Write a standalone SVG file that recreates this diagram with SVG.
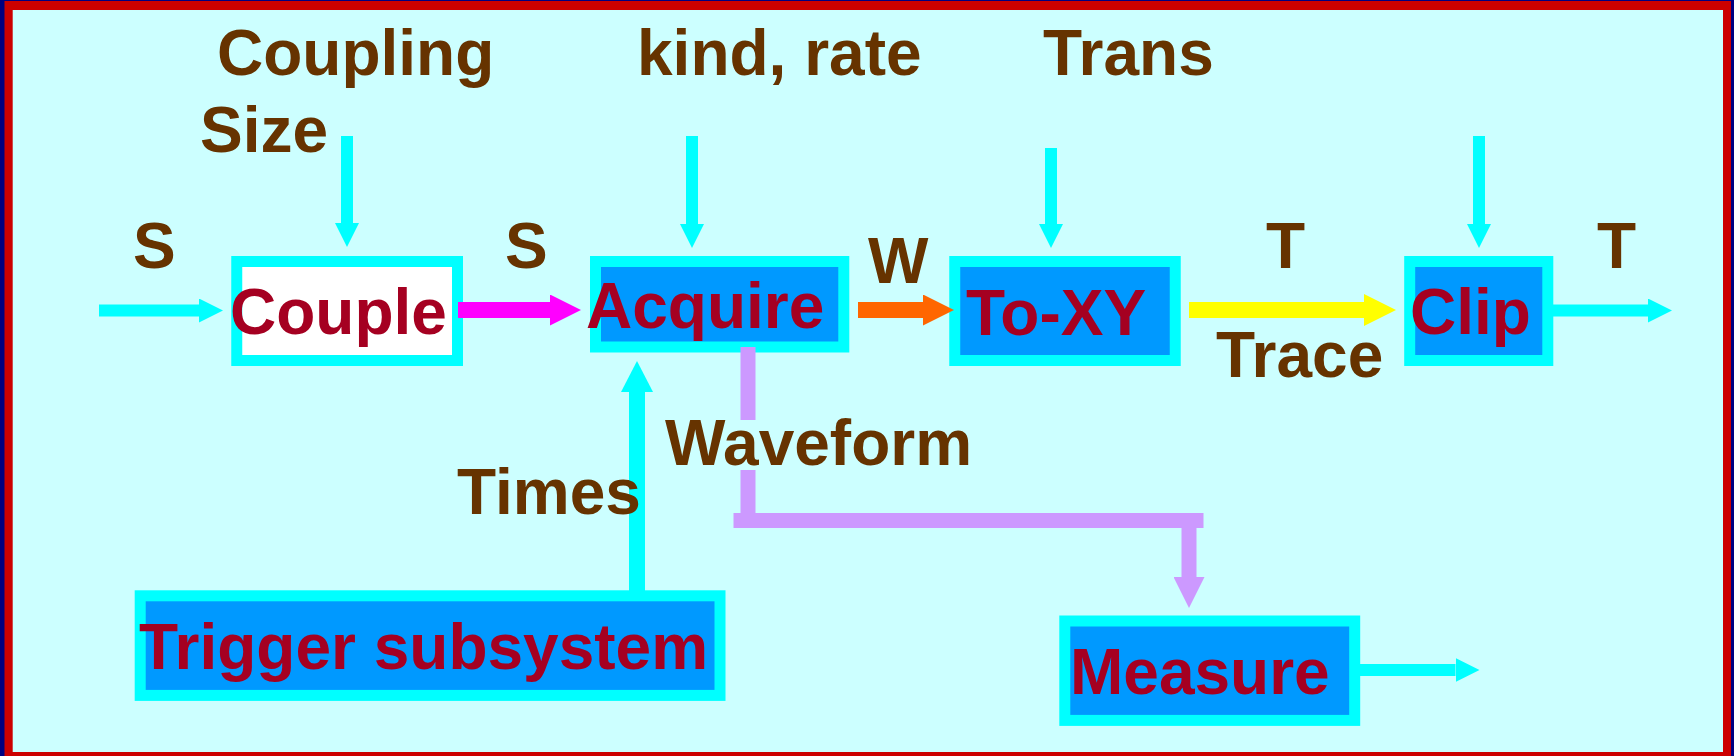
<svg xmlns="http://www.w3.org/2000/svg" width="1734" height="756" viewBox="0 0 1734 756">
  <style>
    text { font-family: "Liberation Sans", Arial, sans-serif; font-weight: bold; font-size: 64px; }
    .lbl { fill: #663300; }
    .name { fill: #A50021; }
    .box { stroke: #00FFFF; stroke-width: 11; }
    .blue { fill: #0099FF; }
    .white { fill: #FFFFFF; }
    .cy12 { fill: none; stroke: #00FFFF; stroke-width: 12; }
    .cy16 { fill: none; stroke: #00FFFF; stroke-width: 16; }
    .mag { fill: none; stroke: #FF00FF; stroke-width: 16; }
    .org { fill: none; stroke: #FF6600; stroke-width: 16; }
    .yel { fill: none; stroke: #FFFF00; stroke-width: 16; }
    .lav { fill: none; stroke: #CC99FF; stroke-width: 15; }
  </style>
  <defs>
    <marker id="hCyanS" markerUnits="userSpaceOnUse" markerWidth="24" markerHeight="24" refX="0" refY="12" orient="auto">
      <path d="M0,0 L24,12 L0,24 z" fill="#00FFFF"/>
    </marker>
    <marker id="hCyanL" markerUnits="userSpaceOnUse" markerWidth="31" markerHeight="32" refX="0" refY="16" orient="auto">
      <path d="M0,0 L31,16 L0,32 z" fill="#00FFFF"/>
    </marker>
    <marker id="hMag" markerUnits="userSpaceOnUse" markerWidth="31" markerHeight="31" refX="0" refY="15.5" orient="auto">
      <path d="M0,0 L31,15.5 L0,31 z" fill="#FF00FF"/>
    </marker>
    <marker id="hOrg" markerUnits="userSpaceOnUse" markerWidth="31" markerHeight="31" refX="0" refY="15.5" orient="auto">
      <path d="M0,0 L31,15.5 L0,31 z" fill="#FF6600"/>
    </marker>
    <marker id="hYel" markerUnits="userSpaceOnUse" markerWidth="32" markerHeight="32" refX="0" refY="16" orient="auto">
      <path d="M0,0 L32,16 L0,32 z" fill="#FFFF00"/>
    </marker>
    <marker id="hLav" markerUnits="userSpaceOnUse" markerWidth="31" markerHeight="31" refX="0" refY="15.5" orient="auto">
      <path d="M0,0 L31,15.5 L0,31 z" fill="#CC99FF"/>
    </marker>
  </defs>

  <!-- frame and background -->
  <rect x="0" y="0" width="1734" height="756" fill="#000080"/>
  <rect x="4.5" y="1" width="1726.5" height="755" fill="#CC0000"/>
  <rect x="12.7" y="10" width="1710.3" height="742" fill="#CCFFFF"/>

  <!-- blocks -->
  <g id="couple">
    <rect class="box white" x="236.75" y="261.5" width="220.75" height="99"/>
    <text class="name" x="230" y="334">Couple</text>
  </g>
  <g id="acquire">
    <rect class="box blue" x="595.5" y="261.5" width="248.3" height="85.5"/>
    <text class="name" x="586" y="328">Acquire</text>
  </g>
  <g id="to-xy">
    <rect class="box blue" x="954.75" y="261.5" width="220.5" height="99"/>
    <text class="name" x="966" y="335">To-XY</text>
  </g>
  <g id="clip">
    <rect class="box blue" x="1409.7" y="261.5" width="138.1" height="99"/>
    <text class="name" x="1410" y="334">Clip</text>
  </g>
  <g id="trigger">
    <rect class="box blue" x="140.2" y="595.8" width="579.8" height="99.6"/>
    <text class="name" x="139" y="669">Trigger subsystem</text>
  </g>
  <g id="measure">
    <rect class="box blue" x="1064.8" y="621" width="289.9" height="99.4"/>
    <text class="name" x="1070" y="694">Measure</text>
  </g>

  <!-- connectors -->
  <g id="connectors">
    <path class="cy12" d="M99,310.5 H199" marker-end="url(#hCyanS)"/>
    <path class="cy12" d="M347,136 V223" marker-end="url(#hCyanS)"/>
    <path class="mag" d="M458,310 H550" marker-end="url(#hMag)"/>
    <path class="cy12" d="M692,136 V224" marker-end="url(#hCyanS)"/>
    <path class="org" d="M858,310 H923" marker-end="url(#hOrg)"/>
    <path class="cy12" d="M1051,148 V224" marker-end="url(#hCyanS)"/>
    <path class="yel" d="M1189,310 H1364" marker-end="url(#hYel)"/>
    <path class="cy12" d="M1479,136 V224" marker-end="url(#hCyanS)"/>
    <path class="cy12" d="M1553,310.5 H1648" marker-end="url(#hCyanS)"/>
    <path class="cy16" d="M637,591 V392" marker-end="url(#hCyanL)"/>
    <path class="cy12" d="M1360,670 H1455.5" marker-end="url(#hCyanS)"/>
    <!-- waveform feed: vertical run broken by its label, then bus to Measure -->
    <path class="lav" d="M748,347 V420 M748,470 V520"/>
    <path class="lav" d="M741,520.5 H1196" stroke-linecap="square"/>
    <path class="lav" d="M1189,520 V577" marker-end="url(#hLav)"/>
  </g>

  <!-- signal labels -->
  <g id="labels">
    <text class="lbl" x="217" y="75">Coupling</text>
    <text class="lbl" x="200" y="152">Size</text>
    <text class="lbl" x="637" y="75">kind, rate</text>
    <text class="lbl" x="1043" y="75">Trans</text>
    <text class="lbl" x="133" y="268">S</text>
    <text class="lbl" x="505" y="268">S</text>
    <text class="lbl" x="868" y="283">W</text>
    <text class="lbl" x="1266" y="268">T</text>
    <text class="lbl" x="1597" y="268">T</text>
    <text class="lbl" x="1216" y="377">Trace</text>
    <text class="lbl" x="665" y="465">Waveform</text>
    <text class="lbl" x="457" y="514">Times</text>
  </g>
</svg>
